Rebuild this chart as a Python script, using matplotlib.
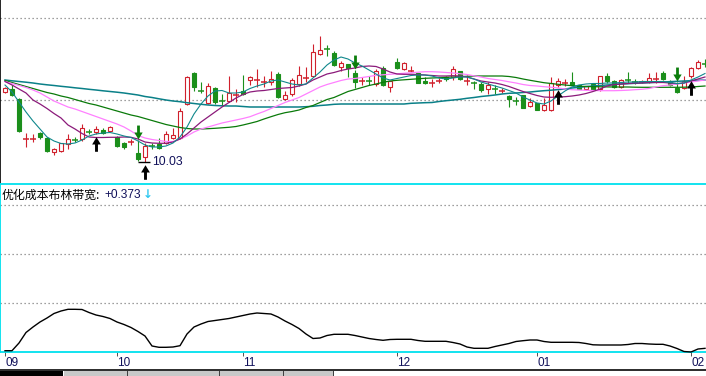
import matplotlib
matplotlib.use("Agg")
import matplotlib.pyplot as plt
from matplotlib.patches import Rectangle
from matplotlib.path import Path
import matplotlib.transforms as mtransforms
import numpy as np

# ---------------- data ----------------
open_p = [10.73, 10.76, 10.66, 10.26, 10.26, 10.32, 10.27, 10.13, 10.14, 10.21,
          10.26, 10.26, 10.34, 10.33, 10.35, 10.34, 10.28, 10.22, 10.23, 10.12,
          10.08, 10.20, 10.21, 10.22, 10.27, 10.27, 10.61, 10.92, 10.75, 10.62,
          10.77, 10.65, 10.64, 10.70, 10.74, 10.85, 10.85, 10.83, 10.83, 10.91,
          10.66, 10.71, 10.81, 10.87, 10.89, 11.11, 11.17, 11.12, 10.98, 11.01,
          10.92, 10.84, 10.85, 10.81, 10.97, 10.78, 11.03, 10.96, 10.94, 10.92,
          10.84, 10.82, 10.84, 10.88, 10.88, 10.94, 10.84, 10.82, 10.81, 10.76,
          10.77, 10.74, 10.69, 10.65, 10.70, 10.59, 10.62, 10.55, 10.55, 10.80,
          10.82, 10.83, 10.80, 10.76, 10.81, 10.76, 10.89, 10.84, 10.78, 10.86,
          10.84, 10.83, 10.83, 10.86, 10.92, 10.84, 10.77, 10.77, 10.89, 10.97,
          11.02]
high_p = [10.78, 10.80, 10.67, 10.32, 10.31, 10.33, 10.28, 10.17, 10.22, 10.31,
          10.28, 10.41, 10.36, 10.39, 10.37, 10.39, 10.29, 10.23, 10.26, 10.25,
          10.22, 10.22, 10.27, 10.34, 10.37, 10.57, 10.89, 10.93, 10.83, 10.82,
          10.78, 10.71, 10.89, 10.76, 10.90, 10.89, 10.96, 10.89, 10.94, 10.93,
          10.74, 10.87, 10.99, 10.98, 11.21, 11.29, 11.20, 11.14, 11.04, 11.01,
          10.95, 10.88, 10.89, 10.96, 10.99, 10.84, 11.07, 11.03, 10.99, 10.92,
          10.88, 10.86, 10.87, 10.89, 10.99, 10.94, 10.90, 10.84, 10.83, 10.83,
          10.80, 10.77, 10.70, 10.68, 10.70, 10.67, 10.62, 10.67, 10.88, 10.87,
          10.86, 10.93, 10.80, 10.79, 10.82, 10.89, 10.92, 10.85, 10.86, 10.93,
          10.86, 10.85, 10.92, 10.93, 10.94, 10.85, 10.83, 10.89, 10.98, 11.05,
          11.06]
low_p = [10.72, 10.69, 10.33, 10.18, 10.23, 10.26, 10.13, 10.10, 10.13, 10.16,
         10.23, 10.24, 10.31, 10.31, 10.31, 10.33, 10.18, 10.16, 10.20, 10.04,
         10.03, 10.16, 10.16, 10.21, 10.26, 10.26, 10.60, 10.74, 10.72, 10.61,
         10.61, 10.59, 10.63, 10.63, 10.70, 10.80, 10.78, 10.78, 10.80, 10.67,
         10.65, 10.69, 10.79, 10.83, 10.88, 11.10, 11.09, 10.99, 10.94, 10.88,
         10.77, 10.80, 10.80, 10.79, 10.79, 10.73, 10.96, 10.95, 10.93, 10.82,
         10.81, 10.78, 10.82, 10.84, 10.85, 10.85, 10.80, 10.76, 10.73, 10.71,
         10.71, 10.72, 10.58, 10.60, 10.57, 10.58, 10.55, 10.54, 10.54, 10.78,
         10.79, 10.80, 10.76, 10.75, 10.75, 10.74, 10.82, 10.77, 10.77, 10.82,
         10.81, 10.82, 10.82, 10.82, 10.85, 10.79, 10.72, 10.76, 10.87, 10.96,
         10.98]
close_p = [10.77, 10.70, 10.34, 10.27, 10.27, 10.28, 10.14, 10.16, 10.22, 10.26,
           10.25, 10.37, 10.33, 10.36, 10.32, 10.38, 10.19, 10.18, 10.24, 10.06,
           10.19, 10.19, 10.17, 10.31, 10.30, 10.54, 10.88, 10.78, 10.74, 10.79,
           10.63, 10.64, 10.72, 10.71, 10.71, 10.88, 10.86, 10.84, 10.86, 10.68,
           10.70, 10.85, 10.90, 10.88, 11.13, 11.15, 11.16, 11.00, 11.02, 10.97,
           10.83, 10.85, 10.84, 10.94, 10.80, 10.84, 10.97, 11.02, 10.95, 10.82,
           10.82, 10.83, 10.85, 10.86, 10.96, 10.86, 10.85, 10.81, 10.75, 10.80,
           10.76, 10.75, 10.66, 10.64, 10.57, 10.63, 10.55, 10.60, 10.82, 10.84,
           10.83, 10.80, 10.76, 10.79, 10.75, 10.89, 10.84, 10.78, 10.85, 10.85,
           10.83, 10.84, 10.87, 10.87, 10.86, 10.80, 10.73, 10.84, 10.97, 11.03,
           11.01]

ma_fast = [10.80, 10.73, 10.63, 10.53, 10.44, 10.36, 10.28, 10.24, 10.215, 10.21,
           10.22, 10.25, 10.29, 10.31, 10.32, 10.325, 10.31, 10.29, 10.275, 10.24,
           10.20, 10.18, 10.18, 10.19, 10.22, 10.28, 10.38, 10.51, 10.61, 10.69,
           10.74, 10.745, 10.72, 10.72, 10.73, 10.765, 10.79, 10.81, 10.84, 10.85,
           10.83, 10.81, 10.80, 10.81, 10.87, 10.93, 11.00, 11.05, 11.08, 11.06,
           11.02, 10.99, 10.95, 10.91, 10.87, 10.85, 10.865, 10.88, 10.895, 10.90,
           10.90, 10.89, 10.87, 10.86, 10.87, 10.88, 10.88, 10.86, 10.83, 10.81,
           10.79, 10.77, 10.745, 10.72, 10.68, 10.65, 10.62, 10.61, 10.64, 10.69,
           10.74, 10.78, 10.80, 10.81, 10.815, 10.815, 10.82, 10.82, 10.825, 10.83,
           10.83, 10.835, 10.835, 10.835, 10.835, 10.825, 10.815, 10.82, 10.85, 10.88,
           10.915]
ma_mid = [10.835, 10.80, 10.76, 10.72, 10.65, 10.61, 10.565, 10.515, 10.47, 10.40,
          10.36, 10.315, 10.28, 10.275, 10.275, 10.277, 10.277, 10.28, 10.277, 10.26,
          10.23, 10.22, 10.217, 10.217, 10.23, 10.26, 10.31, 10.37, 10.43, 10.48,
          10.53, 10.58, 10.625, 10.67, 10.705, 10.73, 10.74, 10.745, 10.755, 10.765,
          10.77, 10.775, 10.79, 10.81, 10.85, 10.88, 10.91, 10.925, 10.945, 10.96,
          10.97, 10.985, 10.99, 10.985, 10.96, 10.93, 10.91, 10.907, 10.907, 10.905,
          10.90, 10.895, 10.89, 10.89, 10.893, 10.89, 10.88, 10.86, 10.84, 10.83,
          10.82, 10.805, 10.785, 10.76, 10.735, 10.715, 10.695, 10.68, 10.677, 10.68,
          10.683, 10.69, 10.70, 10.715, 10.735, 10.76, 10.79, 10.805, 10.81, 10.815,
          10.82, 10.82, 10.825, 10.825, 10.825, 10.82, 10.813, 10.82, 10.84, 10.86,
          10.88]
ma_pink = [10.835, 10.815, 10.795, 10.775, 10.75, 10.72, 10.68, 10.64, 10.61, 10.58,
           10.56, 10.535, 10.51, 10.485, 10.46, 10.435, 10.41, 10.38, 10.34, 10.295,
           10.27, 10.255, 10.245, 10.235, 10.235, 10.26, 10.29, 10.33, 10.36, 10.38,
           10.40, 10.42, 10.435, 10.45, 10.465, 10.483, 10.51, 10.535, 10.565, 10.595,
           10.625, 10.65, 10.675, 10.71, 10.745, 10.78, 10.805, 10.825, 10.845, 10.86,
           10.865, 10.875, 10.885, 10.897, 10.902, 10.907, 10.912, 10.917, 10.923, 10.928,
           10.933, 10.933, 10.93, 10.925, 10.92, 10.913, 10.905, 10.892, 10.88, 10.865,
           10.855, 10.845, 10.832, 10.82, 10.805, 10.795, 10.79, 10.783, 10.778, 10.77,
           10.76, 10.753, 10.75, 10.747, 10.745, 10.743, 10.743, 10.743, 10.745, 10.748,
           10.753, 10.757, 10.765, 10.78, 10.793, 10.80, 10.81, 10.82, 10.83, 10.84,
           10.85]
ma_green = [10.845, 10.825, 10.805, 10.785, 10.765, 10.745, 10.725, 10.71, 10.69, 10.675,
            10.655, 10.635, 10.615, 10.60, 10.58, 10.56, 10.54, 10.52, 10.50, 10.485,
            10.465, 10.445, 10.425, 10.405, 10.39, 10.375, 10.365, 10.36, 10.36, 10.363,
            10.367, 10.372, 10.377, 10.385, 10.40, 10.417, 10.435, 10.46, 10.483, 10.505,
            10.523, 10.535, 10.55, 10.575, 10.595, 10.625, 10.655, 10.675, 10.705, 10.735,
            10.755, 10.775, 10.795, 10.81, 10.827, 10.84, 10.847, 10.852, 10.857, 10.862,
            10.867, 10.87, 10.873, 10.877, 10.88, 10.883, 10.887, 10.89, 10.89, 10.89,
            10.89, 10.89, 10.885, 10.875, 10.86, 10.847, 10.835, 10.823, 10.815, 10.807,
            10.80, 10.793, 10.788, 10.785, 10.783, 10.782, 10.781, 10.78, 10.78, 10.78,
            10.778, 10.777, 10.777, 10.777, 10.777, 10.777, 10.777, 10.778, 10.78, 10.785,
            10.79]
ma_long = [10.85, 10.842, 10.835, 10.828, 10.82, 10.81, 10.802, 10.795, 10.787, 10.78,
           10.772, 10.765, 10.757, 10.75, 10.742, 10.735, 10.728, 10.72, 10.71, 10.70,
           10.685, 10.675, 10.662, 10.65, 10.64, 10.633, 10.623, 10.615, 10.607, 10.60,
           10.595, 10.592, 10.59, 10.59, 10.585, 10.58, 10.58, 10.58, 10.58, 10.58,
           10.58, 10.58, 10.58, 10.583, 10.587, 10.595, 10.60, 10.607, 10.61, 10.61,
           10.61, 10.61, 10.61, 10.61, 10.61, 10.61, 10.61, 10.61, 10.617, 10.62,
           10.623, 10.625, 10.635, 10.643, 10.65, 10.657, 10.667, 10.675, 10.685, 10.692,
           10.70, 10.71, 10.717, 10.72, 10.725, 10.73, 10.737, 10.743, 10.748, 10.754,
           10.76, 10.77, 10.777, 10.784, 10.79, 10.795, 10.80, 10.805, 10.81, 10.813,
           10.817, 10.82, 10.823, 10.827, 10.83, 10.833, 10.837, 10.84, 10.843, 10.847,
           10.85]
bandwidth = [0.326, 0.326, 0.48, 0.69, 0.80, 0.90, 0.98, 1.07, 1.12, 1.154,
             1.154, 1.15, 1.09, 1.04, 1.01, 0.97, 0.90, 0.85, 0.79, 0.71,
             0.62, 0.42, 0.394, 0.394, 0.40, 0.426, 0.66, 0.80, 0.86, 0.91,
             0.93, 0.95, 0.97, 1.00, 1.03, 1.06, 1.08, 1.07, 1.06, 1.00,
             0.92, 0.85, 0.77, 0.66, 0.57, 0.58, 0.63, 0.654, 0.654, 0.654,
             0.63, 0.60, 0.57, 0.55, 0.534, 0.55, 0.554, 0.554, 0.554, 0.53,
             0.514, 0.514, 0.514, 0.514, 0.49, 0.46, 0.40, 0.374, 0.374, 0.374,
             0.41, 0.44, 0.47, 0.51, 0.526, 0.54, 0.54, 0.51, 0.494, 0.494,
             0.494, 0.494, 0.49, 0.47, 0.444, 0.44, 0.44, 0.44, 0.44, 0.45,
             0.47, 0.47, 0.46, 0.454, 0.454, 0.42, 0.37, 0.31, 0.30, 0.36,
             0.373]
buy_signals = [13, 20, 79, 98]
sell_signals = [19, 50, 96]
month_starts = [0, 16, 34, 56, 76, 98]
month_labels = ["09", "10", "11", "12", "01", "02"]
indicator_name = "优化成本布林带宽"

n = len(close_p)
for arr in (open_p, high_p, low_p, ma_fast, ma_mid, ma_pink, ma_green, ma_long, bandwidth):
    assert len(arr) == n, len(arr)

# ---------------- style ----------------
plt.rcParams['font.family'] = ['Liberation Sans', 'Noto Sans CJK SC', 'DejaVu Sans']
RED = '#d0202c'
GREEN = '#1b8f1b'
CYAN = '#00e0ee'
NAVY = '#10105a'
W, H = 706, 376

fig = plt.figure(figsize=(W / 100, H / 100), dpi=100)
fig.patch.set_facecolor('white')


def px_box(x0, y0, x1, y1):
    return [x0 / W, 1 - y1 / H, (x1 - x0) / W, (y1 - y0) / H]


xlim = ((0 - 5) / 7, (W - 5) / 7)

# ---------------- price panel ----------------
ax = fig.add_axes(px_box(0, 0, W, 184))
ax.set_xlim(*xlim)
ax.set_ylim(9.81, 11.65)
ax.set_xticks([])
ax.set_yticks([])
for s in ('top', 'right', 'bottom'):
    ax.spines[s].set_visible(False)
ax.spines['left'].set_color('black')
ax.spines['left'].set_linewidth(1.2)

for f in (0.902, 0.4565):
    ax.plot([0, 1], [f, f], transform=ax.transAxes, color='#808080', lw=0.9,
            ls=(0, (1, 2.2)), zorder=1)

idx = np.arange(n)
lw = 0.8
for i in range(n):
    o, h, l, c = open_p[i], high_p[i], low_p[i], close_p[i]
    up = c >= o
    col = RED if up else GREEN
    top, bot = max(o, c), min(o, c)
    if top - bot <= 0.0105:
        ax.vlines(i, l, h, color=col, lw=lw, zorder=3)
        ax.hlines((o + c) / 2, i - 0.38, i + 0.38, color=col, lw=1.1, zorder=3)
    else:
        if h > top:
            ax.vlines(i, top, h, color=col, lw=lw, zorder=3)
        if l < bot:
            ax.vlines(i, l, bot, color=col, lw=lw, zorder=3)
        ax.add_patch(Rectangle((i - 0.31, bot), 0.62, top - bot,
                               facecolor='white' if up else col, edgecolor=col,
                               lw=lw, zorder=3))

ax.plot(idx, ma_long, color='#0a8088', lw=1.1, zorder=4)
ax.plot(idx, ma_green, color='#0a7a0a', lw=0.9, zorder=4)
ax.plot(idx, ma_pink, color='#ff80ff', lw=0.9, zorder=4)
ax.plot(idx, ma_mid, color='#8b1a7a', lw=0.9, zorder=4)
ax.plot(idx, ma_fast, color='#10888c', lw=0.8, zorder=4)

# signal arrows
up_verts = [(-0.2, -1), (0.2, -1), (0.2, 0.0), (0.6, 0.0), (0, 1),
            (-0.6, 0.0), (-0.2, 0.0), (-0.2, -1)]
up_arrow = Path(up_verts, closed=True)
down_arrow = Path([(x, -y) for x, y in up_verts], closed=True)

buy_tr = ax.transData + mtransforms.ScaledTranslation(0, -0.10, fig.dpi_scale_trans)
ax.plot(buy_signals, [low_p[i] for i in buy_signals], ls='none', marker=up_arrow,
        markersize=10.5, color='black', markeredgewidth=0, transform=buy_tr, zorder=6)
sell_tr = ax.transData + mtransforms.ScaledTranslation(0, 0.08, fig.dpi_scale_trans)
ax.plot(sell_signals, [high_p[i] for i in sell_signals], ls='none', marker=down_arrow,
        markersize=10.0, color='#0b7d0b', markeredgewidth=0, transform=sell_tr, zorder=6)

# lowest price marker
imin = int(np.argmin(low_p))
ax.hlines(low_p[imin], imin - 0.95, imin + 0.7, color='black', lw=1.0, zorder=7)
ax.text(imin + 1.05, low_p[imin] - 0.004, f"{low_p[imin]:.2f}", ha='left', va='center',
        fontsize=8.8, color=NAVY, zorder=7)

# ---------------- indicator panel ----------------
ax2 = fig.add_axes(px_box(0, 184, W, 352))
ax2.set_xlim(*xlim)
ax2.set_ylim(0.30, 3.66)
ax2.set_yticks([])
ax2.spines['right'].set_visible(False)
for s in ('left', 'top', 'bottom'):
    ax2.spines[s].set_color(CYAN)
    ax2.spines[s].set_linewidth(1.3)
for f in (0.875, 0.583, 0.2917):
    ax2.plot([0, 1], [f, f], transform=ax2.transAxes, color='#808080', lw=0.9,
             ls=(0, (1, 2.2)), zorder=1)
ax2.plot(idx, bandwidth, color='black', lw=1.0, zorder=3, clip_on=False)

ax2.set_xticks(month_starts)
ax2.set_xticklabels(month_labels, ha='left', fontsize=8.5, color=NAVY)
ax2.tick_params(axis='x', direction='out', length=3, width=0.7, color='#505050', pad=0.5)

fig.text(2 / W, 1 - 195 / H, indicator_name + ":", ha='left', va='center',
         fontsize=8.6, color='black', family=['Noto Sans CJK SC', 'DejaVu Sans'])
fig.text(104 / W, 1 - 195 / H, f"{bandwidth[-1]:+.3f}", ha='left', va='center',
         fontsize=8.6, color=NAVY)
fig.text(143 / W, 1 - 195 / H, "\u2193", ha='left', va='center', fontsize=8.6,
         color='#30c8f0', family=['DejaVu Sans'], fontweight='bold')

# ---------------- bottom tab bar ----------------
ax3 = fig.add_axes(px_box(0, 368, W, 376))
ax3.set_xlim(0, W)
ax3.set_ylim(376, 368)
ax3.axis('off')
ax3.add_patch(Rectangle((0, 368.5), W, 2, facecolor='#303030', edgecolor='none'))
ax3.add_patch(Rectangle((0, 370.5), 63, 6, facecolor='black', edgecolor='none'))
for x0, x1 in ((63, 127), (127, 219), (219, 283), (283, 333)):
    ax3.add_patch(Rectangle((x0 + 1, 370.5), x1 - x0 - 1, 6, facecolor='#c8c8c8',
                            edgecolor='none'))
    ax3.add_patch(Rectangle((x1 - 0.5, 370.5), 1.2, 6, facecolor='#404040',
                            edgecolor='none'))

fig.savefig("out.png", dpi=100, facecolor='white')
